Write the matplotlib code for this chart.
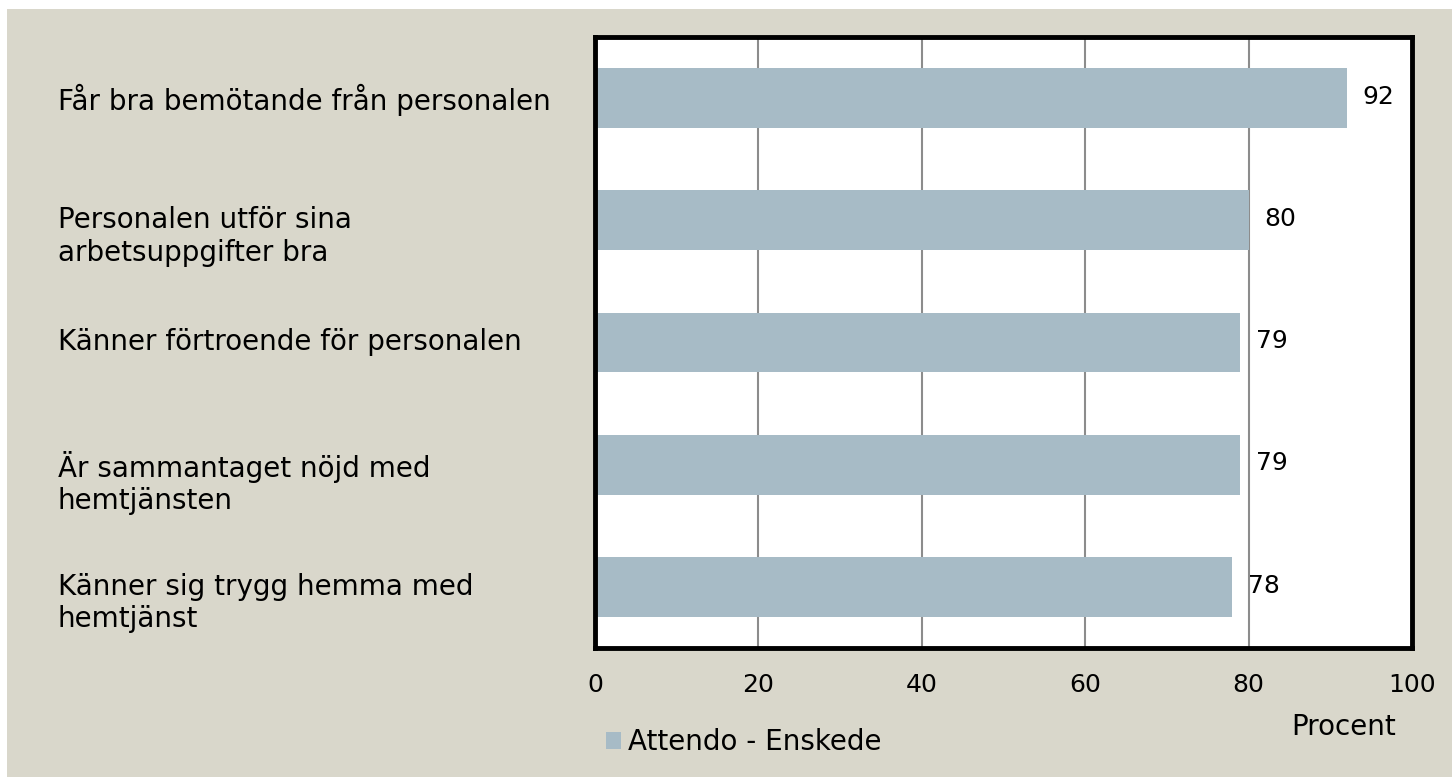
import matplotlib.pyplot as plt
from matplotlib.patches import Rectangle
from matplotlib.transforms import ScaledTranslation, blended_transform_factory

# survey results, top to bottom
labels = [
    "Får bra bemötande från personalen",
    "Personalen utför sina\narbetsuppgifter bra",
    "Känner förtroende för personalen",
    "Är sammantaget nöjd med\nhemtjänsten",
    "Känner sig trygg hemma med\nhemtjänst",
]
values = [92, 80, 79, 79, 78]
series_name = "Attendo - Enskede"
xticks = [0, 20, 40, 60, 80, 100]

plt.rcParams["font.family"] = ["DejaVu Sans"]
W, H = 1452, 777
fig = plt.figure(figsize=(W / 100, H / 100), dpi=100, facecolor="white")
fig.patches.append(Rectangle((7 / W, 0), 1, 1 - 9 / H, transform=fig.transFigure,
                             facecolor="#d9d7cb", edgecolor="none", zorder=-10))

ax = fig.add_axes([595 / W, 1 - 648 / H, (1412 - 595) / W, (648 - 37) / H])
ax.set_facecolor("white")

ypos = list(range(len(labels)))
bars = ax.barh(ypos, values, height=0.49, color="#a7bbc6", zorder=2, label=series_name)
for b, v in zip(bars, values):
    ax.annotate(str(v), (b.get_width(), b.get_y() + b.get_height() / 2),
                xytext=(11.5, 1), textcoords="offset points",
                va="center", ha="left", fontsize=18)

ax.set_xlim(0, 100)
ax.set_ylim(len(labels) - 0.5, -0.5)
ax.set_xticks(xticks)
ax.set_xticklabels([str(t) for t in xticks], fontsize=18)
ax.tick_params(axis="x", length=0, pad=18)
ax.set_yticks(ypos)
ax.set_yticklabels([])
ax.tick_params(axis="y", length=0)
ax.xaxis.grid(True, color="#8c8c8c", lw=1.5, zorder=1)
for s in ax.spines.values():
    s.set_linewidth(3.5)
    s.set_color("black")

# category labels: left aligned, first line centred on its bar
lab_tr = blended_transform_factory(fig.transFigure, ax.transData) + \
    ScaledTranslation(0, 0.14, fig.dpi_scale_trans)
for y, lab in zip(ypos, labels):
    ax.text(58 / W, y, lab, transform=lab_tr, ha="left", va="top",
            fontsize=20, linespacing=1.2, clip_on=False)

ax.set_xlabel("Procent", fontsize=20, va="center")
ax.xaxis.set_label_coords((1344 - 595) / 817, -(727 - 648) / 611)

fig.legend(loc="center left", bbox_to_anchor=(606 / W, 1 - 742 / H), frameon=False,
           fontsize=20, handlelength=0.55, handleheight=0.55, handletextpad=0.25,
           borderpad=0, borderaxespad=0)

fig.savefig("out.png", dpi=100, facecolor=fig.get_facecolor())
